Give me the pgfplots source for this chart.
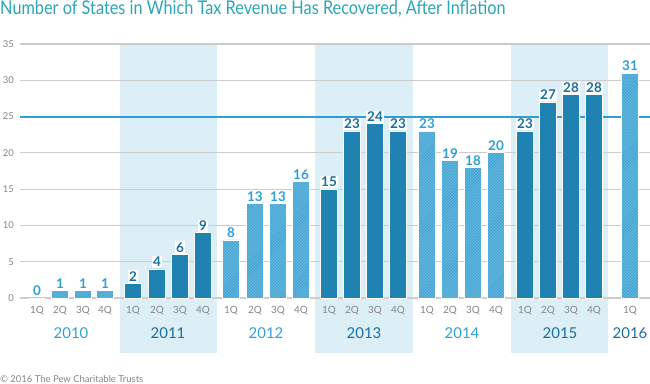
\documentclass[border=0pt]{standalone}
\usepackage{pgfplots}
\pgfplotsset{compat=1.18}
\usetikzlibrary{patterns}
\usepackage{fontspec}
\setmainfont{Lato}
\newfontfamily\titlefont[FakeStretch=0.86]{Lato}
\definecolor{solidbar}{HTML}{1F82B0}
\definecolor{lightbar}{HTML}{3399CD}
\definecolor{lightfill}{HTML}{62B6DE}
\definecolor{refline}{HTML}{2E9ED3}
\definecolor{band}{HTML}{DCEEF6}
\definecolor{darklab}{HTML}{1A6E9E}
\definecolor{lightlab}{HTML}{2FA0D6}
\definecolor{gridc}{HTML}{CCCCCC}
\definecolor{titlec}{HTML}{2AA6B8}
\definecolor{ticklab}{HTML}{858585}
\newcommand\qfont{\fontsize{10}{10}\selectfont}
\newcommand\yfont{\fontsize{15}{15}\selectfont}
\tikzset{qlab/.style={text=ticklab, font=\qfont, yshift=-13bp},
         ylab/.style={font=\yfont, yshift=-35bp}}
\begin{document}
\begin{tikzpicture}
\path[use as bounding box] (0,0) rectangle (650bp,384bp);
\node[anchor=base west, inner sep=0pt, text=titlec, font=\titlefont\fontsize{19}{19}\selectfont] at (0bp,369bp) {Number of States in Which Tax Revenue Has Recovered, After Inflation};
\node[anchor=base west, inner sep=0pt, text=ticklab, font=\fontsize{9.5}{10}\selectfont] at (0bp,2bp) {\textcopyright{} 2016 The Pew Charitable Trusts};
\begin{axis}[
  at={(20bp,86bp)}, anchor=south west,
  scale only axis, width=630bp, height=254bp,
  xmin=20, xmax=650, ymin=0, ymax=35,
  clip=false,
  /pgf/number format/assume math mode=true,
  axis line style={draw=none},
  major tick length=0pt,
  xtick=\empty,
  ytick={0,5,...,35},
  yticklabel style={font=\fontsize{9.5}{10}\selectfont, text=ticklab, anchor=east, inner sep=0pt, xshift=-6bp},
  hbar/.style={ybar, bar width=17bp, bar shift=0pt, draw=white, line width=0.8bp,
     fill=lightfill, postaction={pattern=north east lines, pattern color=lightbar},
     nodes near coords,
     every node near coord/.append style={font=\bfseries\fontsize{13.5}{14}\selectfont, text=lightlab, fill=white, inner sep=1.2pt, anchor=south, yshift=0.5bp}},
  sbar/.style={ybar, bar width=17bp, bar shift=0pt, draw=white, line width=0.8bp,
     fill=solidbar,
     nodes near coords,
     every node near coord/.append style={font=\bfseries\fontsize{13.5}{14}\selectfont, text=darklab, fill=white, inner sep=1.2pt, anchor=south, yshift=0.5bp}},
]
% shaded year bands
\addplot[fill=band, draw=none, forget plot] coordinates {(120,-7.6) (217,-7.6) (217,35) (120,35)};
\addplot[fill=band, draw=none, forget plot] coordinates {(315,-7.6) (413,-7.6) (413,35) (315,35)};
\addplot[fill=band, draw=none, forget plot] coordinates {(511,-7.6) (608,-7.6) (608,35) (511,35)};
% grid lines
\pgfplotsinvokeforeach{0,5,10,15,20,30,35}{
  \addplot[gridc, line width=1.2bp, forget plot] coordinates {(20,#1) (650,#1)};
}
% threshold line
\addplot[refline, line width=2bp, forget plot] coordinates {(20,25) (650,25)};
% bars
\addplot[hbar] coordinates {(37,0) (60,1) (83,1) (105,1)};
\addplot[sbar] coordinates {(133,2) (157,4) (180,6) (203,9)};
\addplot[hbar] coordinates {(231,8) (255,13) (278,13) (301,16)};
\addplot[sbar] coordinates {(329,15) (352,23) (375,24) (398,23)};
\addplot[hbar] coordinates {(427,23) (450,19) (473,18) (496,20)};
\addplot[sbar] coordinates {(525,23) (548,27) (571,28) (594,28)};
\addplot[hbar] coordinates {(630,31)};
% quarter labels
\foreach \x/\q in {37/1Q,60/2Q,83/3Q,105/4Q,133/1Q,157/2Q,180/3Q,203/4Q,231/1Q,255/2Q,278/3Q,301/4Q,329/1Q,352/2Q,375/3Q,398/4Q,427/1Q,450/2Q,473/3Q,496/4Q,525/1Q,548/2Q,571/3Q,594/4Q,630/1Q}{
  \edef\tmp{\noexpand\node[qlab] at (axis cs:\x,0) {\q};}\tmp
}
% year labels
\foreach \x/\yr/\c in {71/2010/lightlab,168/2011/darklab,266/2012/lightlab,364/2013/darklab,462/2014/lightlab,560/2015/darklab,630/2016/darklab}{
  \edef\tmp{\noexpand\node[ylab, text=\c] at (axis cs:\x,0) {\yr};}\tmp
}
\end{axis}
\end{tikzpicture}
\end{document}
